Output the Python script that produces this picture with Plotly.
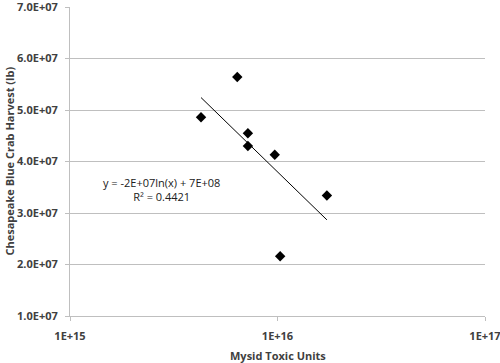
import numpy as np
import plotly.graph_objects as go

# Data
toxic_units = [4.28e15, 6.4e15, 7.2e15, 7.2e15, 9.7e15, 1.03e16, 1.73e16]
harvest_lb = [4.86e7, 5.64e7, 4.55e7, 4.30e7, 4.13e7, 2.16e7, 3.34e7]

y_tickvals = [1e7, 2e7, 3e7, 4e7, 5e7, 6e7, 7e7]
y_ticktext = ["1.0E+07", "2.0E+07", "3.0E+07", "4.0E+07", "5.0E+07", "6.0E+07", "7.0E+07"]
x_tickvals = [1e15, 1e16, 1e17]
x_ticktext = ["1E+15", "1E+16", "1E+17"]

equation_text = "y = -2E+07ln(x) + 7E+08<br>R² = 0.4421"

# Logarithmic trendline fitted from the data
lx = np.log(np.array(toxic_units))
slope, intercept = np.polyfit(lx, np.array(harvest_lb), 1)
trend_x = np.exp(np.linspace(lx.min(), lx.max(), 50))
trend_y = slope * np.log(trend_x) + intercept

FONT = "Open Sans"
TXT = "#404040"
GRID = "#bfbfbf"

fig = go.Figure()
fig.add_trace(go.Scatter(x=trend_x, y=trend_y, mode="lines",
                         line=dict(color="black", width=1), hoverinfo="skip"))
fig.add_trace(go.Scatter(x=toxic_units, y=harvest_lb, mode="markers",
                         marker=dict(symbol="diamond", size=8, color="black")))

fig.add_annotation(x=15.44, y=3.45e7, xref="x", yref="y",
                   text=equation_text, showarrow=False,
                   font=dict(family=FONT, size=11, color="#202020"), align="center")

# axis titles
fig.add_annotation(x=-61 / 415, y=0.5, xref="paper", yref="paper",
                   text="<b>Chesapeake Blue Crab Harvest (lb)</b>", textangle=-90,
                   showarrow=False, xanchor="center", yanchor="middle",
                   font=dict(family=FONT, size=11, color=TXT))
fig.add_annotation(x=0.5, y=-39 / 309, xref="paper", yref="paper",
                   text="<b>Mysid Toxic Units</b>",
                   showarrow=False, xanchor="center", yanchor="middle",
                   font=dict(family=FONT, size=11, color=TXT))

fig.update_layout(
    width=500, height=363,
    margin=dict(l=70, r=15, t=7, b=47, autoexpand=False),
    paper_bgcolor="white", plot_bgcolor="white",
    showlegend=False,
    font=dict(family=FONT, color=TXT),
)
fig.update_xaxes(type="log", range=[15, 17], tickvals=x_tickvals, ticktext=x_ticktext,
                 showgrid=False, showline=True, linecolor=GRID, linewidth=1,
                 ticks="outside", ticklen=4, tickcolor=GRID, automargin=False,
                 ticklabelstandoff=6, ticklabeloverflow="allow",
                 tickfont=dict(family=FONT, size=11, color=TXT, weight="bold"))
fig.update_yaxes(range=[1e7, 7e7], tickvals=y_tickvals, ticktext=y_ticktext,
                 showgrid=True, gridcolor=GRID, gridwidth=1,
                 showline=True, linecolor=GRID, linewidth=1, zeroline=False,
                 ticks="outside", ticklen=4, tickcolor=GRID, automargin=False,
                 ticklabelstandoff=5, ticklabeloverflow="allow",
                 tickfont=dict(family=FONT, size=11, color=TXT, weight="bold"))

fig.write_html("out.html", config={"displayModeBar": False},
               post_script="document.body.style.margin='0';document.body.style.overflow='hidden';")
